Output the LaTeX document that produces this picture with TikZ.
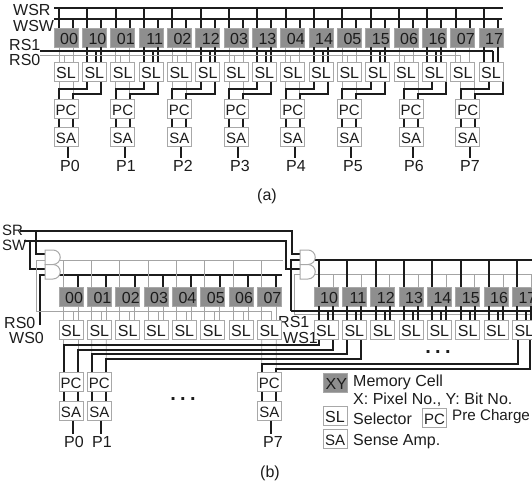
\documentclass[tikz,border=0pt]{standalone}
\usepackage{fontspec}
\setmainfont{Liberation Sans}
\usetikzlibrary{positioning}
\definecolor{memGray}{HTML}{8E8E8E}
\definecolor{boxGray}{HTML}{A8A8A8}
\definecolor{thinGray}{HTML}{A4A4A4}
\definecolor{inkDark}{HTML}{1C1C1C}

\begin{document}
\begin{tikzpicture}[x=1pt, y=-1pt, font=\fontsize{16}{16}\selectfont, text=inkDark,
    memcell/.style={draw=boxGray, fill=memGray, line width=0.8pt, minimum height=19pt, text width=24pt, text height=14.5pt, text depth=0pt, inner xsep=0pt, inner ysep=0pt, align=right, anchor=north west, outer sep=0pt},
    unitbox/.style={draw=boxGray, fill=white, line width=1pt, minimum width=24pt, minimum height=19.5pt, text height=14pt, text depth=0pt, inner sep=0pt, anchor=north west, outer sep=0pt},
    smalltxt/.style={font=\fontsize{15}{15}\selectfont},
    dotrow/.style={font=\fontsize{20}{20}\selectfont\bfseries, inner sep=0pt, anchor=base},
    pinlbl/.style={inner xsep=0pt, inner ysep=2.5pt},
    lbl/.style={inner sep=0pt, anchor=west},
    andgate/.style={draw=boxGray, fill=white, line width=1pt},
    wire/.style={draw=inkDark, line width=2pt},
    thin wire/.style={draw=thinGray, line width=0.8pt}]

  \clip (0,0) rectangle (532,487);

  % (a)
  \coordinate (wsrA) at (54,8);
  \coordinate (wsrB) at (503,8);
  \coordinate (wswA) at (54,19);
  \coordinate (wswB) at (502,19);
  \coordinate (rsoneA) at (40,51);
  \coordinate (rszeroA) at (40,55);

  \node[lbl] (wsr) at (13,10)  {WSR};
  \node[lbl] (wsw) at (13,26)  {WSW};
  \node[lbl] (rsone) at (9,45) {RS1};
  \node[lbl] (rszero) at (9,60) {RS0};

  \draw[wire] (wsrA) -- (wsrB);
  \draw[wire] (wswA) -- (wswB);

  \foreach \p/\ea/\eb/\ps/\lx in {0/5/19/0/70, 1/5/19/0/126, 2/5/19/0/183, 3/5/19/0/240,
                                 4/5/19/0/296, 5/5/19/0/353, 6/10/24/5/414, 7/10/24/5/470} {
    \pgfmathsetmacro\xe{54+56.667*\p}
    \pgfmathsetmacro\xo{\xe+28.333}
    \pgfmathsetmacro\xb{\xe+\ps}
    \node[memcell] (cao\p) at (\xe,28) {0\p};
    \node[memcell] (cai\p) at (\xo,28) {1\p};
    \node[unitbox] (slo\p) at (\xe,62) {SL};
    \node[unitbox] (sli\p) at (\xo,62) {SL};
    \node[unitbox, smalltxt] (pca\p) at (\xb,99) {PC};
    \node[unitbox, smalltxt] (saa\p) at (\xb,127) {SA};
    \node[pinlbl] (pa\p) at (\lx,166) {P\p};
    \foreach \c in {cao\p,cai\p} {
      \draw[wire] ([xshift=5pt]\c.north west) -- ([xshift=5pt]\c.north west |- wsrA);
      \draw[wire] ([xshift=19pt]\c.north west) -- ([xshift=19pt]\c.north west |- wswA);
    }
    \draw[thin wire] ([xshift=5pt]cao\p.south west) -- ([xshift=5pt]slo\p.north west);
    \draw[thin wire] ([xshift=19pt]cao\p.south west) -- ([xshift=19pt]slo\p.north west);
    \draw[thin wire] ([xshift=10pt]slo\p.north west) -- ([xshift=10pt]slo\p.north west |- rszeroA);
    \draw[wire] ([xshift=5pt]cai\p.south west) -- ([xshift=5pt]sli\p.north west);
    \draw[wire] ([xshift=19pt]cai\p.south west) -- ([xshift=19pt]sli\p.north west);
    \draw[wire] ([xshift=14pt]sli\p.north west) -- ([xshift=14pt]sli\p.north west |- rsoneA);
    \draw[thin wire] ([xshift=5pt]pca\p.north west) -- ([xshift=5pt]pca\p.north west |- slo\p.south);
    \draw[thin wire] ([xshift=19pt]pca\p.north west) -- ([xshift=19pt]pca\p.north west |- slo\p.south);
    \draw[wire] ([xshift=\ea pt]sli\p.south west) -- ++(0,7) -| ([xshift=5pt]pca\p.north west);
    \draw[wire] ([xshift=\eb pt]sli\p.south west) -- ++(0,12) -| ([xshift=19pt]pca\p.north west);
    \draw[wire] ([xshift=5pt]pca\p.south west) -- ([xshift=5pt]saa\p.north west);
    \draw[wire] ([xshift=19pt]pca\p.south west) -- ([xshift=19pt]saa\p.north west);
    \draw[wire] ([xshift=2pt]saa\p.south) -- ([xshift=2pt]saa\p.south |- pa\p.north);
  }
  \draw[wire] (rsoneA) -- ([xshift=14pt]sli7.north west |- rsoneA);
  \draw[thin wire] (rszeroA) -- ([xshift=10pt]slo7.north west |- rszeroA);

  \node[inner sep=0pt] (capa) at (267,196) {(a)};

  % (b)
  \coordinate (srA) at (20,231);
  \coordinate (srD) at (36,231);
  \coordinate (srT) at (292,231);
  \coordinate (swA) at (24,241);
  \coordinate (swD) at (30,241);
  \coordinate (swT) at (286,241);
  \coordinate (wszero) at (40,325);
  \coordinate (rsz) at (36,311);
  \coordinate (rsi) at (291,311);
  \coordinate (wsi) at (294,314);
  \coordinate (edgeA) at (532,260);
  \coordinate (edgeB) at (532,274.5);
  \coordinate (endA) at (283,260);
  \coordinate (endB) at (282,274.5);

  \node[lbl, smalltxt] (sr) at (2,230)   {SR};
  \node[lbl, smalltxt] (sw) at (2,245)   {SW};
  \node[lbl] (rsb) at (4,323)  {RS0};
  \node[lbl] (wsb) at (9,338)  {WS0};
  \node[lbl] (rsc) at (278,322) {RS1};
  \node[lbl] (wsc) at (283,338) {WS1};

  % gate pins
  \foreach \g/\x/\y in {gaa/45/250, gab/45/264.5, gba/300/250, gbb/300/264.5} {
    \coordinate (\g i) at (\x,\y+4);
    \coordinate (\g j) at (\x,\y+10);
    \coordinate (\g o) at (\x+10,\y+10);
  }
  \draw[wire] (srA) -- (srT) |- (gbai);
  \draw[wire] (swA) -- (swT) |- (gbbi);
  \draw[wire] (srD) |- (gaai);
  \draw[wire] (swD) |- (gabi);
  \draw[wire] (wszero) |- (gabj);
  \draw[thin wire] (rsz) |- (gaaj);
  \draw[wire] (rsi) |- (gbaj);
  \draw[thin wire] (wsi) |- (gbbj);
  \draw[thin wire] (gaao) -- (endA);
  \draw[wire] (gabo) -- (endB);
  \draw[wire] (gbao) -- (edgeA);
  \draw[thin wire] (gbbo) -- (edgeB);
  \draw[thin wire] (wsi) -- (wsi -| edgeA);
  \foreach \g/\x/\y in {gaa/45/250, gab/45/264.5, gba/300/250, gbb/300/264.5} {
    \draw[andgate] (\x,\y) -- ++(8,0) arc (-90:90:7.25) -- ++(-8,0) -- cycle;
  }

  \foreach \p in {0,...,7} {
    \pgfmathsetmacro\xe{59+28.333*\p}
    \pgfmathsetmacro\xo{314+28.333*\p}
    \node[memcell] (cbo\p) at (\xe,287) {0\p};
    \node[memcell] (cbi\p) at (\xo,287) {1\p};
    \node[unitbox] (sbo\p) at (\xe,320) {SL};
    \node[unitbox] (sbi\p) at (\xo,320) {SL};
    \draw[thin wire] ([xshift=4pt]cbo\p.north west) -- ([xshift=4pt]cbo\p.north west |- endA);
    \draw[wire] ([xshift=19pt]cbo\p.north west) -- ([xshift=19pt]cbo\p.north west |- endB);
    \draw[thin wire] ([xshift=4pt]cbo\p.south west) -- ([xshift=4pt]sbo\p.north west);
    \draw[thin wire] ([xshift=19pt]cbo\p.south west) -- ([xshift=19pt]sbo\p.north west);
    \draw[thin wire] ([xshift=14pt]sbo\p.north west) -- ([xshift=14pt]sbo\p.north west |- rsz);
    \draw[wire] ([xshift=5pt]cbi\p.north west) -- ([xshift=5pt]cbi\p.north west |- edgeA);
    \draw[thin wire] ([xshift=19pt]cbi\p.north west) -- ([xshift=19pt]cbi\p.north west |- edgeB);
    \draw[wire] ([xshift=5pt]cbi\p.south west) -- ([xshift=5pt]sbi\p.north west);
    \draw[wire] ([xshift=19pt]cbi\p.south west) -- ([xshift=19pt]sbi\p.north west);
    \draw[wire] ([xshift=14pt]sbi\p.north west) -- ([xshift=14pt]sbi\p.north west |- rsi);
  }
  \draw[thin wire] (rsz) -- ([xshift=14pt]sbo7.north west |- rsz);
  \draw[wire] (rsi) -- (rsi -| edgeA);

  \foreach \p/\x/\lx in {0/59/74, 1/87.3/102, 7/257.3/273} {
    \node[unitbox, smalltxt] (pcb\p) at (\x,372) {PC};
    \node[unitbox, smalltxt] (sab\p) at (\x,401) {SA};
    \node[pinlbl] (pb\p) at (\lx,442) {P\p};
    \draw[thin wire] ([xshift=4.5pt]sbo\p.south west) -- ([xshift=4.5pt]pcb\p.north west);
    \draw[thin wire] ([xshift=19pt]sbo\p.south west) -- ([xshift=19pt]pcb\p.north west);
    \draw[wire] ([xshift=4.5pt]pcb\p.south west) -- ([xshift=4.5pt]sab\p.north west);
    \draw[wire] ([xshift=19pt]pcb\p.south west) -- ([xshift=19pt]sab\p.north west);
    \draw[wire] ([xshift=2pt]sab\p.south) -- ([xshift=2pt]sab\p.south |- pb\p.north);
  }

  \foreach \pc/\dl/\k/\sl/\dr in {0/4.5/27/0/5, 0/19/22/0/19, 1/4.5/18/1/5, 1/19/13/1/19, 7/4.5/8/7/6, 7/19/3/7/18} {
    \draw[wire] ([xshift=\dl pt]pcb\pc.north west) -- ++(0,-\k) -| ([xshift=\dr pt]sbi\sl.south west);
  }

  \node[dotrow] (dotsa) at (183,400) {.\hspace{4.4pt}.\hspace{4.4pt}.};
  \node[dotrow] (dotsb) at (438,353) {.\hspace{4.4pt}.\hspace{4.4pt}.};

  \node[inner sep=0pt] (capb) at (270,473) {(b)};

  % legend
  \node[memcell] (lgxy) at (323,373) {XY};
  \node[unitbox] (lgsl) at (323,406) {SL};
  \node[unitbox, smalltxt] (lgpc) at (422.5,408) {PC};
  \node[unitbox, smalltxt] (lgsa) at (323,429) {SA};
  \node[lbl] (tmem) at (353,382) {Memory Cell};
  \node[lbl] (txy)  at (353,400) {X: Pixel No., Y: Bit No.};
  \node[lbl] (tsel) at (353,419) {Selector};
  \node[lbl, font=\fontsize{15.2}{15.2}\selectfont] (tpre) at (452,417) {Pre Charge};
  \node[lbl] (tamp) at (353,442) {Sense Amp.};
\end{tikzpicture}
\end{document}
